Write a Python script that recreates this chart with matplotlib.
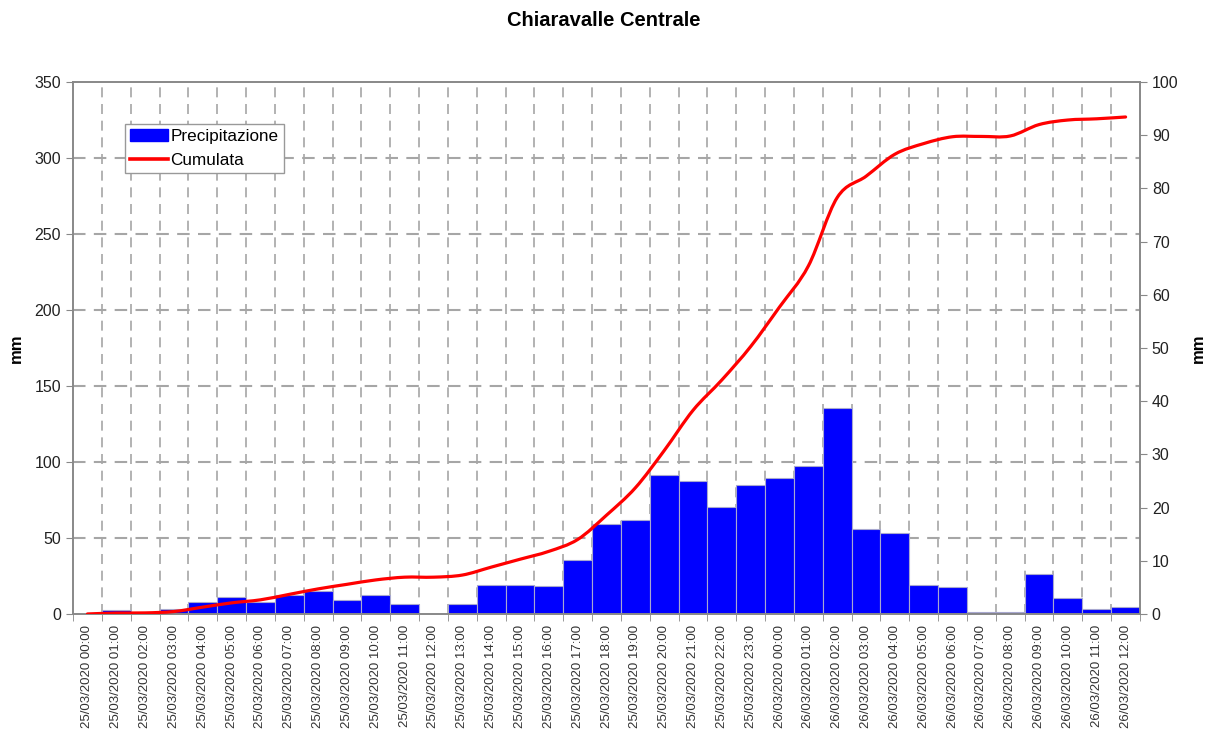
import numpy as np
import matplotlib
matplotlib.use("Agg")
import matplotlib.pyplot as plt
from matplotlib.path import Path
from matplotlib.patches import PathPatch, Patch
from matplotlib.lines import Line2D

plt.rcParams['font.family'] = ['Liberation Sans', 'DejaVu Sans']

# hourly time labels
hours25 = ["%02d:00" % h for h in range(24)]
hours26 = ["%02d:00" % h for h in range(13)]
labels = ["25/03/2020 " + h for h in hours25] + ["26/03/2020 " + h for h in hours26]

# hourly precipitation (mm, right axis)
precip = [0, 0.7, 0, 1.0, 2.3, 3.1, 2.2, 3.5, 4.3, 2.7, 3.5, 1.8, 0, 1.9,
          5.5, 5.5, 5.2, 10.1, 16.9, 17.7, 26.1, 25.0, 20.2, 24.3, 25.5, 27.8,
          38.7, 16.0, 15.2, 5.5, 5.1, 0.3, 0.3, 7.5, 3.0, 1.0, 1.3]

# cumulated rain (mm, left axis)
cumulata = [0, 0.6, 0.7, 1.6, 4.5, 7.3, 9.3, 12.9, 16.5, 19.5, 22.4, 24.2, 24.2, 25.6,
            30.8, 36.0, 41.2, 49.0, 65.0, 83.0, 107.5, 134.0, 154.0, 176.0, 202.0,
            229.0, 274.0, 288.0, 302.5, 309.5, 314.0, 314.2, 314.5, 322.0, 325.0,
            325.8, 327.0]

n = len(labels)
x = np.arange(n)

fig = plt.figure(figsize=(12.07, 7.33), dpi=100)
ax = fig.add_axes([0.0605, 0.1624, 0.884, 0.7257])
ax2 = ax.twinx()

# line axis on top of bars axis
ax.set_zorder(ax2.get_zorder() + 1)
ax.patch.set_visible(False)

grid_col = "#a6a6a6"
# gridlines on the bar axis (drawn behind bars)
for v in np.arange(50, 301, 50):
    ax2.axhline(v / 3.5, color=grid_col, lw=1.5, ls=(0, (6, 4)), zorder=0)
for b in np.arange(0.5, n - 1, 1):
    ax2.axvline(b, color=grid_col, lw=1.2, ls=(0, (6, 4)), zorder=0)

ax2.bar(x, precip, width=1.0, color="#0000ff", edgecolor="#a8a8d0", linewidth=0.8, zorder=2)
ax2.set_ylim(0, 100)
ax2.set_yticks(np.arange(0, 101, 10))

# smoothed cumulated line (Catmull-Rom through the data points)
pts = np.column_stack([x, cumulata])
verts = [pts[0]]
codes = [Path.MOVETO]
for i in range(n - 1):
    p0 = pts[max(i - 1, 0)]
    p1 = pts[i]
    p2 = pts[i + 1]
    p3 = pts[min(i + 2, n - 1)]
    c1 = p1 + (p2 - p0) / 6.0
    c2 = p2 - (p3 - p1) / 6.0
    verts += [c1, c2, p2]
    codes += [Path.CURVE4] * 3
ax.add_patch(PathPatch(Path(verts, codes), facecolor="none", edgecolor="#ff0000", lw=2.3,
                       capstyle="round", joinstyle="round", zorder=3))

ax.set_ylim(0, 350)
ax.set_yticks(np.arange(0, 351, 50))
ax.set_xlim(-0.5, n - 0.5)

# category ticks on bottom: labels at centers, marks between categories
ax.set_xticks(x)
ax.set_xticklabels(labels, rotation=90, fontsize=9.5, color="#333333")
ax.tick_params(axis="x", length=0, pad=8)
ax.set_xticks(np.arange(-0.5, n, 1), minor=True)
ax.tick_params(axis="x", which="minor", length=5, color="#888888", direction="out")

for a in (ax, ax2):
    for s in a.spines.values():
        s.set_color("#888888")
        s.set_linewidth(1.2)
ax.tick_params(axis="y", labelsize=11.5, length=5, color="#888888", labelcolor="#222222")
ax2.tick_params(axis="y", labelsize=11.5, length=5, color="#888888", labelcolor="#222222")

ax.set_ylabel("mm", fontsize=12, fontweight="bold", labelpad=8)
ax2.set_ylabel("mm", fontsize=12, fontweight="bold", labelpad=9)

fig.suptitle("Chiaravalle Centrale", fontsize=14.5, fontweight="bold", y=0.985)

handles = [Patch(facecolor="#0000ff", edgecolor="#0000ff"),
           Line2D([0], [0], color="#ff0000", lw=2.6)]
leg = ax.legend(handles, ["Precipitazione", "Cumulata"], loc="upper left",
                bbox_to_anchor=(0.049, 0.922), fontsize=12.3, frameon=True, fancybox=False,
                framealpha=1, edgecolor="#999999", handlelength=2.2, handletextpad=0.15,
                borderpad=0.3, labelspacing=0.55, borderaxespad=0)
leg.get_frame().set_linewidth(1.0)

fig.savefig("out.png", dpi=100)
